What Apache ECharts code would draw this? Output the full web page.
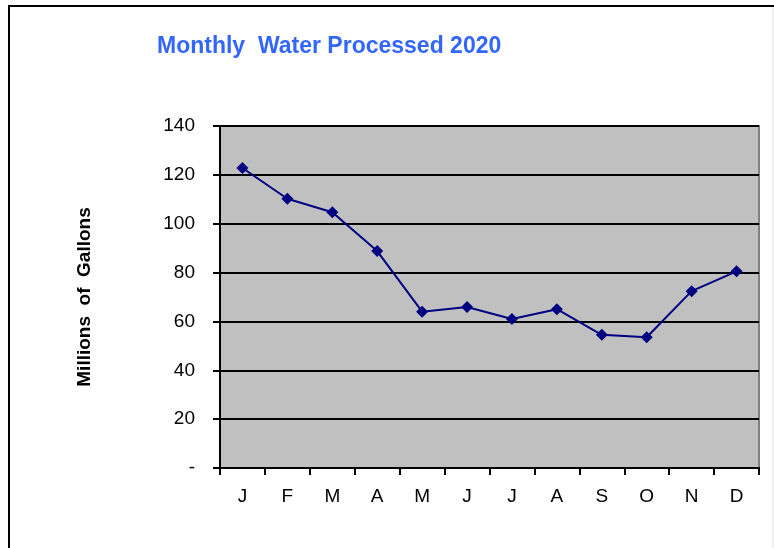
<!DOCTYPE html>
<html>
<head>
<meta charset="utf-8">
<script src="https://cdn.jsdelivr.net/npm/echarts@6/dist/echarts.min.js"></script>
<style>
  html, body { margin: 0; padding: 0; background: #fff; }
  #chart { width: 774px; height: 548px; }
</style>
</head>
<body>
<div id="chart"></div>
<script>
// month initials along the bottom
var months = ["J", "F", "M", "A", "M", "J", "J", "A", "S", "O", "N", "D"];
// millions of gallons
var waterProcessed = [122.8, 110.2, 104.7, 88.8, 64, 65.9, 61, 65, 54.5, 53.5, 72.4, 80.5];
var yTicks = [0, 20, 40, 60, 80, 100, 120, 140];

var chartDom = document.getElementById("chart");
var myChart = echarts.init(chartDom);
var option;

option = {
  backgroundColor: "#ffffff",
  animation: false,
  textStyle: { fontFamily: "Liberation Sans, Arial, sans-serif" },
  title: {
    text: "Monthly  Water Processed 2020",
    left: 152,
    top: 30,
    textStyle: { color: "#3366ff", fontSize: 23, fontWeight: "bold" }
  },
  // outer frame lines (left and top)
  graphic: [
    { type: "line", shape: { x1: 9, y1: 6, x2: 9, y2: 548 }, style: { stroke: "#000", lineWidth: 2 } },
    { type: "line", shape: { x1: 8, y1: 6, x2: 774, y2: 6 }, style: { stroke: "#000", lineWidth: 2 } },
    { type: "line", shape: { x1: 773, y1: 7, x2: 773, y2: 548 }, style: { stroke: "#e0e0e0", lineWidth: 1 } }
  ],
  grid: {
    left: 220,
    top: 126,
    right: 15,
    bottom: 80,
    show: true,
    backgroundColor: "#c0c0c0",
    borderColor: "#808080",
    borderWidth: 2
  },
  xAxis: {
    type: "category",
    data: months,
    boundaryGap: true,
    axisLine: { lineStyle: { color: "#000", width: 2 } },
    axisTick: { show: true, alignWithLabel: false, length: 7, lineStyle: { color: "#000", width: 2 } },
    axisLabel: { color: "#000", fontSize: 19, margin: 19 },
    splitLine: { show: false }
  },
  yAxis: {
    type: "value",
    min: yTicks[0],
    max: yTicks[yTicks.length - 1],
    interval: 20,
    name: "Millions  of  Gallons",
    nameLocation: "middle",
    nameGap: 126,
    nameRotate: 90,
    nameTextStyle: { color: "#000", fontSize: 19, fontWeight: "bold", padding: [0, 0, 0, 0] },
    axisLine: { show: true, lineStyle: { color: "#000", width: 2 } },
    axisTick: { show: true, length: 7, lineStyle: { color: "#000", width: 2 } },
    axisLabel: {
      color: "#000",
      fontSize: 19,
      margin: 25,
      formatter: function (v) { return v === 0 ? "-" : String(v); }
    },
    splitLine: { show: true, lineStyle: { color: "#000", width: 2 } }
  },
  series: [
    {
      name: "Water Processed",
      type: "line",
      data: waterProcessed,
      symbol: "diamond",
      symbolSize: 12,
      itemStyle: { color: "#000080" },
      lineStyle: { color: "#000080", width: 2 }
    }
  ]
};

option && myChart.setOption(option);
</script>
</body>
</html>
